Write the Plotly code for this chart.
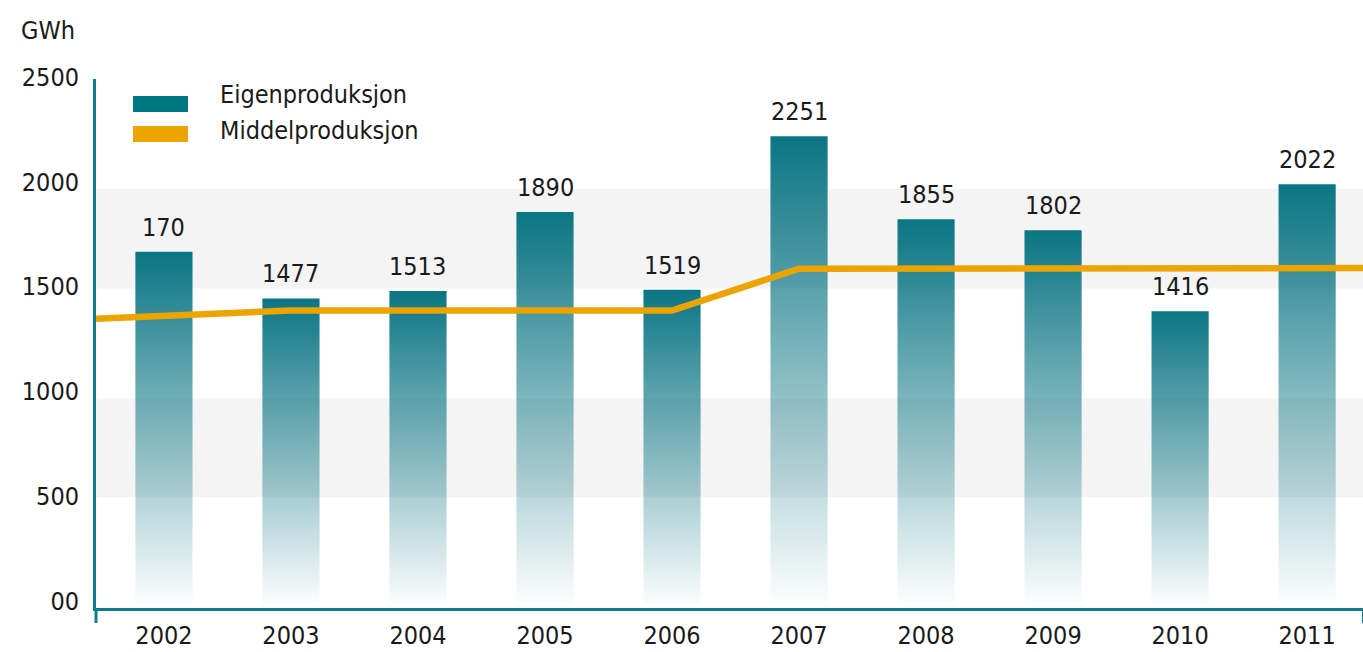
import plotly.graph_objects as go

years = [2002, 2003, 2004, 2005, 2006, 2007, 2008, 2009, 2010, 2011]
eigen = [1700, 1477, 1513, 1890, 1519, 2251, 1855, 1802, 1416, 2022]
eigen_labels = ["170", "1477", "1513", "1890", "1519", "2251", "1855", "1802", "1416", "2022"]
mid_years = [2001, 2002, 2003, 2004, 2005, 2006, 2007, 2008, 2009, 2010, 2011, 2012]
middel = [1369, 1394, 1419, 1419, 1419, 1419, 1619, 1619, 1619, 1621, 1622, 1622]
y_ticks = [0, 500, 1000, 1500, 2000, 2500]
y_tick_text = ["00", "500", "1000", "1500", "2000", "2500"]
bands = [(529, 1000), (1524, 2000)]

TEAL = "#0b7584"
AXIS = "#0e7d8b"
ORANGE = "#eca400"
FONT = "DejaVu Sans Condensed, Liberation Sans Narrow, sans-serif"
TXT = "#1a1a1a"
FS = 25
BAR_W = 0.45

W, H = 1363, 652
L, R, T, B = 96, 0, 79, 44
pw, ph = W - L - R, H - T - B


def px(x):
    return (x - L) / pw


def py(y):
    return (H - B - y) / ph


fig = go.Figure()

for yr, v in zip(years, eigen):
    fig.add_trace(go.Scatter(
        x=[yr - BAR_W / 2, yr - BAR_W / 2, yr + BAR_W / 2, yr + BAR_W / 2, yr - BAR_W / 2],
        y=[0, v, v, 0, 0],
        mode="lines", fill="toself", line=dict(width=0, color=TEAL),
        fillgradient=dict(type="vertical", start=0, stop=v,
                          colorscale=[[0, "rgba(11,117,132,0)"], [0.5, "rgba(11,117,132,0.5)"], [1, "rgba(11,117,132,1)"]]),
        hoverinfo="skip", showlegend=False,
    ))

fig.add_trace(go.Scatter(
    x=mid_years, y=middel, mode="lines",
    line=dict(color=ORANGE, width=6.5), showlegend=False, cliponaxis=True,
))

for yr, v, t in zip(years, eigen, eigen_labels):
    fig.add_annotation(x=yr, y=v, text=t, showarrow=False, yanchor="bottom", yshift=8,
                       font=dict(family=FONT, size=FS, color=TXT))

for y0, y1 in bands:
    fig.add_shape(type="rect", xref="paper", yref="y", x0=0, x1=1, y0=y0, y1=y1,
                  fillcolor="#f4f4f4", line=dict(width=0), layer="below")

# axis tick extensions below x-axis
for xp in (0, 1):
    fig.add_shape(type="line", xref="paper", yref="paper", x0=xp, x1=xp, y0=0, y1=-15 / ph,
                  line=dict(color=AXIS, width=3 if xp == 0 else 2))

# custom legend
fig.add_shape(type="rect", xref="paper", yref="paper", x0=px(133), x1=px(188), y0=py(112), y1=py(96),
              fillcolor="#007884", line=dict(width=0))
fig.add_shape(type="rect", xref="paper", yref="paper", x0=px(133), x1=px(188), y0=py(142), y1=py(126),
              fillcolor=ORANGE, line=dict(width=0))
fig.add_annotation(xref="paper", yref="paper", x=px(218), y=py(94), text="Eigenproduksjon", showarrow=False,
                   xanchor="left", yanchor="middle", font=dict(family=FONT, size=FS, color=TXT))
fig.add_annotation(xref="paper", yref="paper", x=px(218), y=py(130), text="Middelproduksjon", showarrow=False,
                   xanchor="left", yanchor="middle", font=dict(family=FONT, size=FS, color=TXT))
fig.add_annotation(xref="paper", yref="paper", x=px(48), y=py(30), text="GWh", showarrow=False,
                   xanchor="center", yanchor="middle", font=dict(family=FONT, size=FS, color=TXT))

fig.update_layout(
    width=W, height=H,
    margin=dict(l=L, r=R, t=T, b=B, pad=0, autoexpand=False),
    paper_bgcolor="white", plot_bgcolor="white",
    showlegend=False,
    font=dict(family=FONT, size=FS, color=TXT),
    xaxis=dict(range=[2001.465, 2011.44], tickvals=years, ticktext=[str(y) for y in years],
               showline=True, linecolor=AXIS, linewidth=3, showgrid=False, zeroline=False,
               automargin=False, ticks="", ticklabelstandoff=3,
               tickfont=dict(family=FONT, size=FS, color=TXT)),
    yaxis=dict(range=[0, 2524], tickvals=y_ticks, ticktext=y_tick_text,
               showline=True, linecolor=AXIS, linewidth=3, showgrid=False, zeroline=False,
               automargin=False, ticks="", ticklabelstandoff=9, ticklabelshift=-7,
               tickfont=dict(family=FONT, size=FS, color=TXT)),
)

fig.write_html("out.html", config={"displayModeBar": False},
               post_script="document.body.style.margin='0';document.body.style.overflow='hidden';")
